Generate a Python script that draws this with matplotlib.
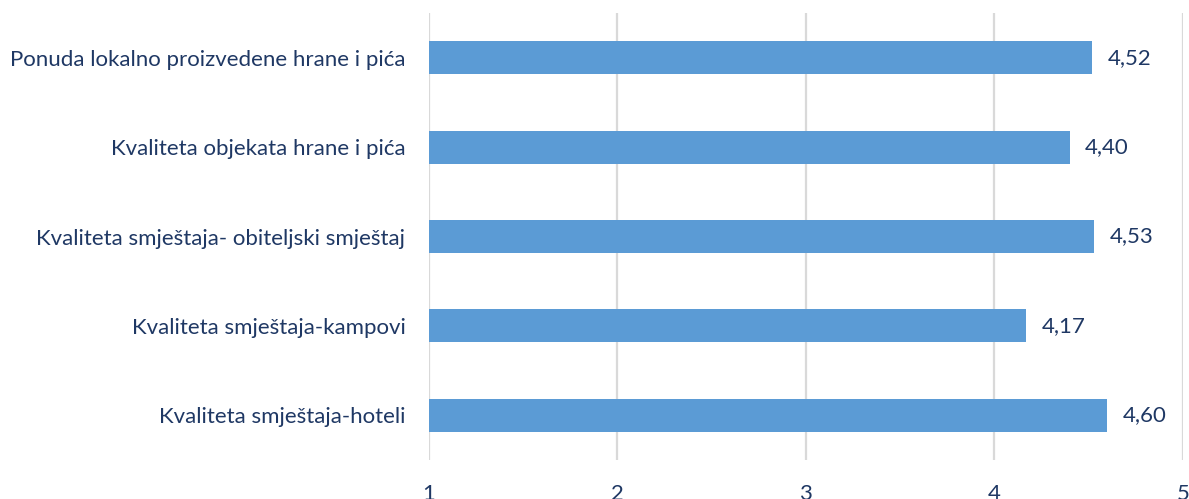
import matplotlib.pyplot as plt

# Podaci
kategorije = [
    "Ponuda lokalno proizvedene hrane i pića",
    "Kvaliteta objekata hrane i pića",
    "Kvaliteta smještaja- obiteljski smještaj",
    "Kvaliteta smještaja-kampovi",
    "Kvaliteta smještaja-hoteli",
]
ocjene = [4.52, 4.40, 4.53, 4.17, 4.60]
x_ticks = [1, 2, 3, 4, 5]

plava = "#5B9BD5"
tekst = "#1F3864"

plt.rcParams["font.family"] = ["Lato", "DejaVu Sans"]

fig = plt.figure(figsize=(11.89, 4.99), dpi=100)
ax = fig.add_axes([0.3608, 0.078, 0.634, 0.896])

pozicije = list(range(len(kategorije)))
ax.barh(pozicije, [v - 1 for v in ocjene], left=1, height=0.37,
        color=plava, zorder=3)

for p, v in zip(pozicije, ocjene):
    ax.text(v + 0.08, p, f"{v:.2f}".replace(".", ","), va="center",
            ha="left", fontsize=16, color=tekst)

ax.set_xlim(1, 5)
ax.set_ylim(4.5, -0.5)
ax.set_xticks(x_ticks)
ax.set_xticklabels([str(t) for t in x_ticks])
ax.set_yticks(pozicije)
ax.set_yticklabels(kategorije)
ax.tick_params(axis="both", length=0, labelsize=16, colors=tekst)
ax.tick_params(axis="x", pad=17)
ax.tick_params(axis="y", pad=17)

ax.grid(axis="x", color="#D9D9D9", linewidth=1.6, zorder=0)
for s in ax.spines.values():
    s.set_visible(False)

fig.savefig("out.png", dpi=100)
